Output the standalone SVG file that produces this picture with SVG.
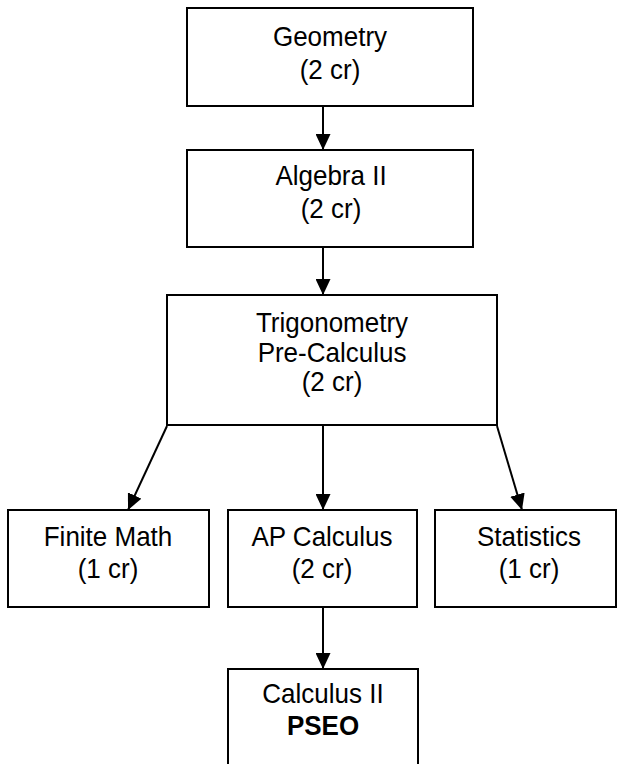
<svg xmlns="http://www.w3.org/2000/svg" width="617" height="764" viewBox="0 0 617 764">
<style>
.box{fill:#fff;stroke:#000;stroke-width:2}
.t{font-family:"Liberation Sans",Arial,sans-serif;font-size:26px;fill:#000;text-anchor:middle}
.b{font-weight:bold}
.c{stroke:#000;stroke-width:2;fill:none}
</style>
<defs>
<marker id="ah" markerUnits="userSpaceOnUse" markerWidth="17" markerHeight="15" refX="16" refY="7.5" orient="auto">
<path d="M0,0 L16,7.5 L0,15 Z" fill="#000"/>
</marker>
</defs>
<rect width="617" height="764" fill="#fff"/>
<g id="geometry">
<rect class="box" x="187" y="8" width="286" height="98"/>
<text class="t" transform="translate(330,46) scale(1,1.08)">Geometry</text>
<text class="t" transform="translate(330,79) scale(1,1.08)">(2 cr)</text>
</g>
<g id="algebra2">
<rect class="box" x="187" y="150" width="286" height="97"/>
<text class="t" transform="translate(331,185) scale(1,1.08)">Algebra II</text>
<text class="t" transform="translate(331,218) scale(1,1.08)">(2 cr)</text>
</g>
<g id="trig">
<rect class="box" x="167" y="295" width="330" height="130"/>
<text class="t" transform="translate(332,332) scale(1,1.08)">Trigonometry</text>
<text class="t" transform="translate(332,362) scale(1,1.08)">Pre-Calculus</text>
<text class="t" transform="translate(332,391) scale(1,1.08)">(2 cr)</text>
</g>
<g id="finite">
<rect class="box" x="8" y="510" width="201" height="97"/>
<text class="t" transform="translate(108,546) scale(1,1.08)">Finite Math</text>
<text class="t" transform="translate(108,578) scale(1,1.08)">(1 cr)</text>
</g>
<g id="apcalc">
<rect class="box" x="228" y="510" width="189" height="97"/>
<text class="t" transform="translate(322,546) scale(1,1.08)">AP Calculus</text>
<text class="t" transform="translate(322,578) scale(1,1.08)">(2 cr)</text>
</g>
<g id="statistics">
<rect class="box" x="435" y="510" width="181" height="97"/>
<text class="t" transform="translate(529,546) scale(1,1.08)">Statistics</text>
<text class="t" transform="translate(529,578) scale(1,1.08)">(1 cr)</text>
</g>
<g id="calc2">
<rect class="box" x="228" y="669" width="190" height="120"/>
<text class="t" transform="translate(323,703) scale(1,1.08)">Calculus II</text>
<text class="t b" transform="translate(323,735) scale(1,1.08)">PSEO</text>
</g>
<g id="connectors">
<line class="c" x1="323" y1="106" x2="323" y2="150" marker-end="url(#ah)"/>
<line class="c" x1="323" y1="247" x2="323" y2="295" marker-end="url(#ah)"/>
<line class="c" x1="323" y1="425" x2="323" y2="510" marker-end="url(#ah)"/>
<line class="c" x1="167" y1="426" x2="128" y2="510" marker-end="url(#ah)"/>
<line class="c" x1="497" y1="426" x2="522" y2="510" marker-end="url(#ah)"/>
<line class="c" x1="323" y1="607" x2="323" y2="669" marker-end="url(#ah)"/>
</g>
</svg>
